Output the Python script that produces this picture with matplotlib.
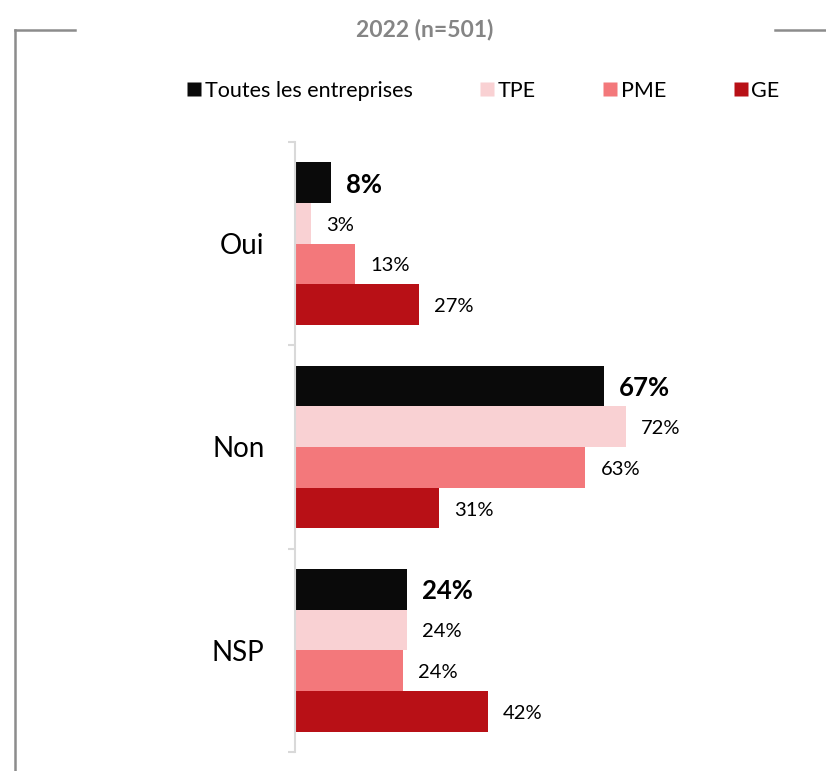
import matplotlib
matplotlib.use("Agg")
import matplotlib.pyplot as plt
from matplotlib.lines import Line2D
import numpy as np

plt.rcParams['font.family'] = ['Lato', 'DejaVu Sans']

categories = ["Oui", "Non", "NSP"]
series = ["Toutes les entreprises", "TPE", "PME", "GE"]
values = {
    "Toutes les entreprises": [7.9, 67.1, 24.2],
    "TPE": [3.4, 71.8, 24.3],
    "PME": [13.1, 63.0, 23.5],
    "GE": [26.8, 31.2, 41.9],
}
colors = ["#0a0a0a", "#f9d1d3", "#f3787b", "#b81016"]
title = "2022 (n=501)"

W, H = 826, 771
fig = plt.figure(figsize=(W / 100, H / 100), dpi=100)

left_px, right_px, top_px, bot_px = 295, 756, 142, 752
ax = fig.add_axes([left_px / W, 1 - bot_px / H, (right_px - left_px) / W, (bot_px - top_px) / H])

y = np.arange(len(categories))
bh = 0.2
offsets = [-0.3, -0.1, 0.1, 0.3]
for i, s in enumerate(series):
    bars = ax.barh(y + offsets[i], values[s], height=bh, color=colors[i], edgecolor='none')
    for b, v in zip(bars, values[s]):
        ax.annotate(f"{round(v):d}%", (b.get_width(), b.get_y() + b.get_height() / 2),
                    xytext=(15, -2), textcoords='offset pixels',
                    va='center', ha='left',
                    fontsize=18.5 if i == 0 else 14.5,
                    fontweight='bold' if i == 0 else 'normal', color='black')

ax.set_xlim(0, 100)
ax.set_ylim(2.5, -0.5)
ax.set_xticks([])
for sp in ['top', 'right', 'bottom']:
    ax.spines[sp].set_visible(False)
ax.spines['left'].set_color('#d9d9d9')
ax.spines['left'].set_linewidth(1.5)
ax.set_yticks([-0.5, 0.5, 1.5, 2.5])
ax.set_yticklabels([])
ax.tick_params(axis='y', which='major', length=5, width=1.5, color='#d9d9d9')
ax.set_yticks(y, minor=True)
ax.set_yticklabels(categories, minor=True, fontsize=20)
ax.tick_params(axis='y', which='minor', length=0, pad=22)

# legend
handles = [Line2D([0], [0], marker='s', linestyle='none', markersize=10,
                  markerfacecolor=c, markeredgecolor='none') for c in colors]
fig.legend(handles, series, loc='center', bbox_to_anchor=(482 / W, 1 - 91 / H),
           ncol=4, frameon=False, fontsize=15.5, columnspacing=3.0,
           handletextpad=0.05, handlelength=0.9)

# frame lines and title
gray = '#8c8c8c'
fig.add_artist(Line2D([15 / W, 15 / W], [0, 1 - 30 / H], color=gray, lw=1.8))
fig.add_artist(Line2D([15 / W, 75 / W], [1 - 30 / H, 1 - 30 / H], color=gray, lw=1.8))
fig.add_artist(Line2D([775 / W, 1], [1 - 30 / H, 1 - 30 / H], color=gray, lw=1.8))
fig.text(425 / W, 1 - 30 / H, title, ha='center', va='center', fontsize=16.5,
         fontweight='bold', color='#858585')

fig.savefig("out.png", dpi=100)
